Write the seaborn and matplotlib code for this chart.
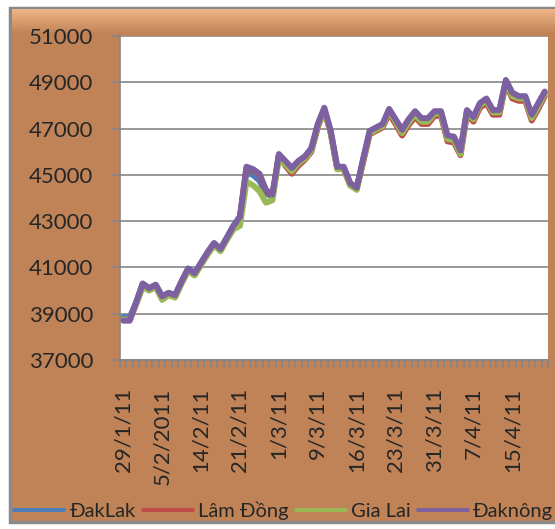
import numpy as np
import pandas as pd
import matplotlib
matplotlib.use("Agg")
import matplotlib.pyplot as plt
from matplotlib.patches import Rectangle
from matplotlib.colors import LinearSegmentedColormap
from matplotlib.ticker import FixedLocator
import seaborn as sns

# giá cà phê theo ngày (đồng/kg)
tick_labels = ["29/1/11", "5/2/2011", "14/2/11", "21/2/11", "1/3/11", "9/3/11",
               "16/3/11", "23/3/11", "31/3/11", "7/4/11", "15/4/11"]
provinces = ["ĐakLak", "Lâm Đồng", "Gia Lai", "Đaknông"]

daklak = [38850, 38850, 39500, 40300, 40100, 40250, 39750, 39900, 39800, 40400,
          40950, 40750, 41200, 41650, 42050, 41800, 42300, 42800, 43200, 45100,
          45000, 44750, 44200, 44050, 45850, 45550, 45250, 45550, 45750, 46100,
          47150, 47850, 46850, 45300, 45300, 44600, 44400, 45650, 46850, 47000,
          47150, 47800, 47350, 46900, 47350, 47700, 47400, 47400, 47700, 47700,
          46650, 46600, 46000, 47750, 47450, 48050, 48250, 47750, 47750, 49050,
          48500, 48350, 48350, 47550, 48050, 48550]
lamdong = [38750, 38750, 39450, 40250, 40050, 40200, 39700, 39850, 39750, 40350,
           40900, 40700, 41150, 41600, 42000, 41750, 42250, 42750, 43150, 45300,
           45200, 45000, 44300, 44100, 45800, 45400, 45050, 45400, 45650, 46000,
           47050, 47800, 46800, 45250, 45250, 44550, 44400, 45550, 46750, 46900,
           47050, 47650, 47200, 46700, 47150, 47500, 47200, 47200, 47550, 47550,
           46450, 46400, 45850, 47600, 47300, 47900, 48100, 47600, 47600, 48950,
           48300, 48200, 48200, 47350, 47850, 48400]
gialai = [38750, 38750, 39400, 40150, 40000, 40150, 39600, 39800, 39700, 40300,
          40850, 40650, 41100, 41550, 41950, 41700, 42200, 42650, 42800, 44700,
          44550, 44300, 43800, 43900, 45700, 45450, 45150, 45500, 45700, 46050,
          47100, 47800, 46800, 45250, 45250, 44550, 44350, 45600, 46800, 46950,
          47100, 47750, 47300, 46800, 47250, 47600, 47300, 47300, 47650, 47650,
          46550, 46500, 45900, 47700, 47400, 48000, 48200, 47700, 47700, 49000,
          48400, 48300, 48300, 47450, 47950, 48500]
daknong = [38700, 38700, 39500, 40300, 40100, 40250, 39750, 39900, 39800, 40400,
           40950, 40750, 41200, 41650, 42050, 41800, 42300, 42800, 43200, 45350,
           45250, 45050, 44350, 44150, 45900, 45600, 45300, 45600, 45800, 46150,
           47200, 47900, 46900, 45350, 45350, 44650, 44450, 45700, 46900, 47050,
           47200, 47850, 47400, 46950, 47400, 47750, 47450, 47450, 47750, 47750,
           46700, 46650, 46050, 47800, 47500, 48100, 48300, 47800, 47800, 49100,
           48550, 48400, 48400, 47600, 48100, 48600]

series = [daklak, lamdong, gialai, daknong]
n = len(daknong)
df = pd.concat(
    [pd.DataFrame({"idx": range(n), "price": s, "province": p})
     for p, s in zip(provinces, series)],
    ignore_index=True,
)

sns.set_theme(style="white")
plt.rcParams["font.family"] = ["Lato", "DejaVu Sans"]

W, H = 555, 529
fig = plt.figure(figsize=(W / 100, H / 100), dpi=100)
fig.patch.set_facecolor("white")

# khung nền kiểu Excel
bg = fig.add_axes([0, 0, 1, 1], zorder=-10)
bg.axis("off")
tan = "#BF8357"
bg.add_patch(Rectangle((10, 8), 560, 514, facecolor=tan, edgecolor="#8A8A8A", lw=2.5))
grad = LinearSegmentedColormap.from_list("bevel", ["#F0B586", tan])
bg.imshow(np.linspace(0, 1, 50).reshape(-1, 1), cmap=grad, aspect="auto",
          extent=(11.5, 555, 34, 9.5), zorder=2)
bg.set_xlim(0, W)
bg.set_ylim(H, 0)

ax = fig.add_axes([120 / W, 1 - 360 / H, 428 / W, 324 / H])
ax.set_facecolor("white")

palette = {"ĐakLak": "#4A7EBB", "Lâm Đồng": "#BE4B48",
           "Gia Lai": "#98B954", "Đaknông": "#7D60A0"}
sns.lineplot(data=df, x="idx", y="price", hue="province", hue_order=provinces,
             palette=palette, linewidth=4.3, ax=ax, zorder=3)

ax.set_xlim(-0.5, n - 0.5)
ax.set_ylim(37000, 51000)
ax.set_yticks(range(37000, 51001, 2000))
ax.set_yticklabels([str(v) for v in range(37000, 51001, 2000)], fontsize=16)
ax.yaxis.grid(True, color="#868686", lw=1.2)
ax.tick_params(axis="y", length=6, color="#868686", width=1.2, pad=13, left=True)

ax.set_xticks(range(0, n, 6))
ax.set_xticklabels(tick_labels, rotation=90, fontsize=16, va="top", ha="center")
ax.xaxis.set_minor_locator(FixedLocator(np.arange(-0.5, n, 1)))
ax.tick_params(axis="x", which="major", length=0, pad=20)
ax.tick_params(axis="x", which="minor", length=6, color="#868686", width=1.2,
               bottom=True)
ax.set_xlabel("")
ax.set_ylabel("")

for side in ["top", "right"]:
    ax.spines[side].set_visible(False)
for side in ["left", "bottom"]:
    ax.spines[side].set_color("#868686")
    ax.spines[side].set_linewidth(1.2)

handles, labels = ax.get_legend_handles_labels()
ax.legend_.remove()
for h in handles:
    h.set_linewidth(2.8)
fig.legend(handles, labels, loc="center left", bbox_to_anchor=(14 / W, 1 - 511 / H),
           ncol=4, frameon=False, fontsize=14.5, handlelength=2.5, handletextpad=0.25,
           columnspacing=0.35, borderpad=0, borderaxespad=0)

fig.savefig("out.png", dpi=100)
